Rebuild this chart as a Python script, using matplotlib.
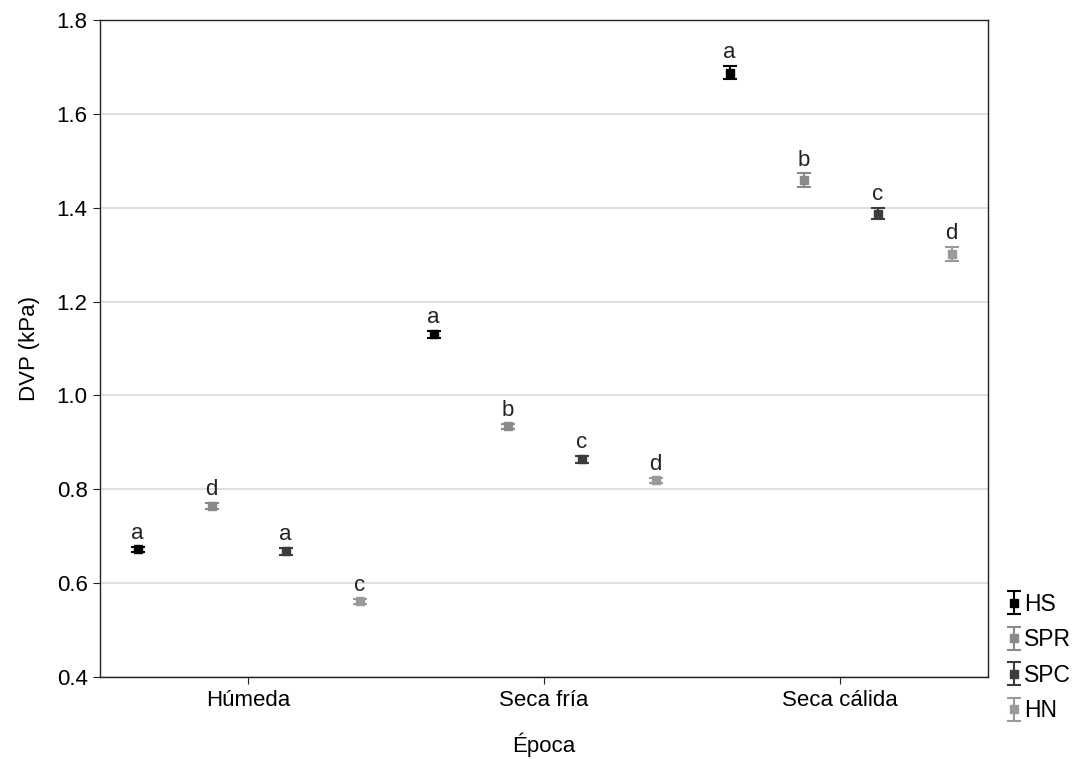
import numpy as np
import matplotlib.pyplot as plt

plt.rcParams['font.family'] = ['Liberation Sans', 'DejaVu Sans']

epocas = ['Húmeda', 'Seca fría', 'Seca cálida']
series = ['HS', 'SPR', 'SPC', 'HN']
colores = ['#000000', '#8a8a8a', '#3c3c3c', '#9a9a9a']

# medias (kPa) por serie, en el orden de epocas
hs = [0.672, 1.130, 1.688]
spr = [0.764, 0.934, 1.459]
spc = [0.668, 0.864, 1.387]
hn = [0.561, 0.819, 1.302]

# error (+/-)
hs_err = [0.005, 0.007, 0.014]
spr_err = [0.007, 0.006, 0.014]
spc_err = [0.007, 0.007, 0.012]
hn_err = [0.005, 0.006, 0.015]

letras = [['a', 'a', 'a'],
          ['d', 'b', 'b'],
          ['a', 'c', 'c'],
          ['c', 'd', 'd']]

medias = [hs, spr, spc, hn]
errores = [hs_err, spr_err, spc_err, hn_err]
offsets = [-0.373, -0.123, 0.127, 0.377]

fs = 16

fig = plt.figure(figsize=(10.78, 7.59), dpi=100)
ax = fig.add_axes([0.0928, 0.108, 0.8237, 0.8656])

x = np.arange(len(epocas))
handles = []
for i in range(len(series)):
    h = ax.errorbar(x + offsets[i], medias[i], yerr=errores[i], fmt='s',
                    color=colores[i], ms=5.5, capsize=5, elinewidth=1.5,
                    capthick=1.5, label=series[i], zorder=3)
    handles.append(h)
    for j in range(len(epocas)):
        ax.text(x[j] + offsets[i], medias[i][j] + errores[i][j] + 0.006,
                letras[i][j], ha='center', va='bottom', fontsize=fs,
                color='#222222')

ax.set_xlim(-0.5, 2.5)
ax.set_ylim(0.4, 1.8)
ax.set_xticks(x)
ax.set_xticklabels(epocas, fontsize=fs)
ax.set_yticks([0.4, 0.6, 0.8, 1.0, 1.2, 1.4, 1.6, 1.8])
ax.set_yticklabels(['0.4', '0.6', '0.8', '1.0', '1.2', '1.4', '1.6', '1.8'], fontsize=fs)
ax.yaxis.grid(True, color='#d9d9d9', linewidth=1.2)
ax.set_axisbelow(True)
for s in ax.spines.values():
    s.set_color('#222222')
    s.set_linewidth(1.0)
ax.tick_params(direction='out', length=5, color='#222222', pad=4)

ax.set_xlabel('Época', fontsize=fs, labelpad=16)
ax.set_ylabel('DVP (kPa)', fontsize=fs, labelpad=12)

fig.legend(handles=handles, labels=series, loc='lower left',
           bbox_to_anchor=(0.923, 0.03), frameon=False, fontsize=16.5,
           handlelength=0.5, handletextpad=0.15, labelspacing=0.55,
           borderpad=0.1)

plt.savefig('out.png', dpi=100)
